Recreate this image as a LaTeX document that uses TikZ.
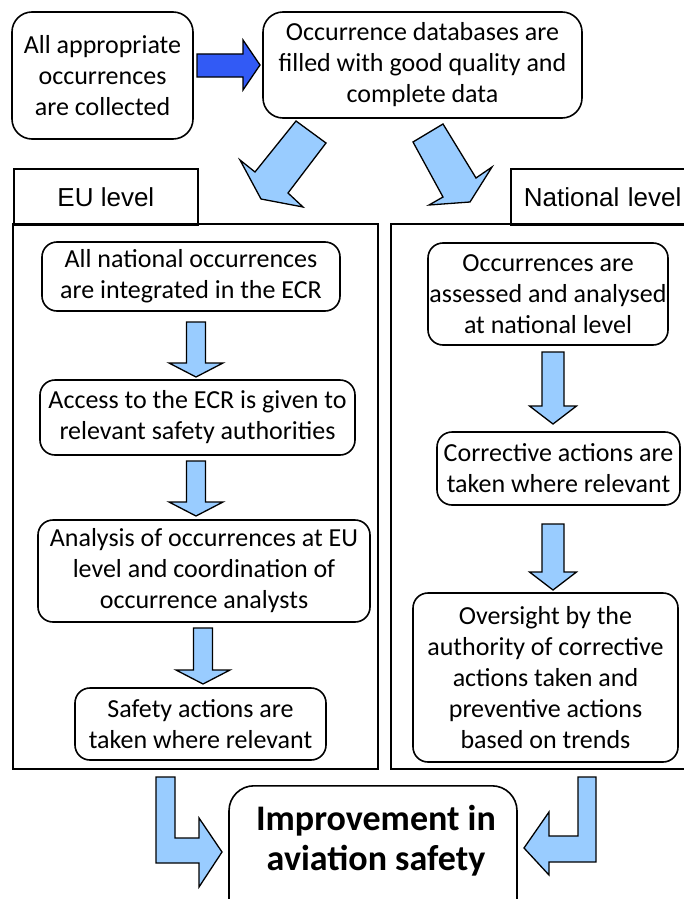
\documentclass[tikz,border=0pt]{standalone}
\usepackage{fontspec}
\setmainfont{Carlito}
\newfontfamily\arialf{Liberation Sans}
\definecolor{lblue}{RGB}{153,204,255}
\definecolor{dblue}{RGB}{50,90,245}
\tikzset{
  rbox/.style={draw=black, line width=1.6pt, rounded corners=15pt, align=center, inner sep=0pt,
    font=\fontsize{26}{31}\selectfont},
  tabbox/.style={draw=black, line width=1.8pt, inner sep=0pt, font=\arialf\fontsize{26}{30}\selectfont},
  panel/.style={draw=black, line width=1.8pt},
  barrow/.style={draw=black, line width=1.3pt, fill=lblue, line join=miter},
  darrow/.style={draw=black, line width=1.3pt, fill=dblue, line join=miter},
}
\newcommand\dnarrow[6]{%
  \draw[barrow] (#1-#5,#2) -- (#1+#5,#2) -- (#1+#5,#3) -- (#1+#6,#3) -- (#1,#4)
    -- (#1-#6,#3) -- (#1-#5,#3) -- cycle;}
\begin{document}
\begin{tikzpicture}[x=1pt,y=-1pt]
\useasboundingbox (0,0) rectangle (684,899);
\clip (0,0) rectangle (684,899);
\fill[white] (0,0) rectangle (684,899);

% top boxes
\node[rbox, rounded corners=20pt, minimum width=181, minimum height=127] (a) at (102.5,75.5)
  {All appropriate\\occurrences\\are collected};
\node[rbox, rounded corners=20pt, minimum width=319, minimum height=106] (b) at (422.5,65)
  {Occurrence databases are\\filled with good quality and\\complete data};
\draw[darrow] (197,54) -- (243,54) -- (243,40) -- (260,65) -- (243,90) -- (243,77) -- (197,77) -- cycle;

% diagonal arrows
\draw[barrow] (296,121) -- (326,143) -- (288,193) -- (303,207) -- (261,199) -- (240,160) -- (255,172) -- cycle;
\draw[barrow] (413,142) -- (443,124) -- (476,178) -- (492,167) -- (470,202) -- (429,205) -- (443,197) -- cycle;

% panels and tabs
\node[tabbox, minimum width=184, minimum height=56, anchor=north west] (eutab) at (13,168) {EU level};
\draw[panel] (13,224) rectangle (378,769);
\node[tabbox, minimum height=56, anchor=north west, text width=176, align=left, inner xsep=13pt] (natab) at (510,168) {National level};
\draw[panel] (391,224) rectangle (700,769);

% EU level
\node[rbox, minimum width=298, minimum height=69] (e1) at (191,276.5)
  {All national occurrences\\are integrated in the ECR};
\node[rbox, minimum width=315, minimum height=75] (e2) at (197.5,417.5)
  {Access to the ECR is given to\\relevant safety authorities};
\node[rbox, minimum width=332, minimum height=102] (e3) at (204,571)
  {Analysis of occurrences at EU\\level and coordination of\\occurrence analysts};
\node[rbox, minimum width=251, minimum height=72] (e4) at (200.5,724)
  {Safety actions are\\taken where relevant};
\dnarrow{196}{322}{363}{377}{9.5}{27}
\dnarrow{196}{461}{502}{516}{9.5}{27}
\dnarrow{203}{628}{670}{684}{9.5}{27}

% National level
\node[rbox, minimum width=240, minimum height=102] (n1) at (548,294)
  {Occurrences are\\assessed and analysed\\at national level};
\node[rbox, minimum width=243, minimum height=73] (n2) at (558.5,468.5)
  {Corrective actions are\\taken where relevant};
\node[rbox, minimum width=265, minimum height=169] (n3) at (545.5,677.5)
  {Oversight by the\\authority of corrective\\actions taken and\\preventive actions\\based on trends};
\dnarrow{553}{352}{406}{424}{11}{23.5}
\dnarrow{553}{524}{572}{590}{11}{23.5}

% bottom
\node[rbox, rounded corners=25pt, minimum width=288, minimum height=150, anchor=north] (imp) at (373,785) {};
\node[align=center, inner sep=0pt, font=\bfseries\fontsize{36}{40}\selectfont] (impt) at (376,841)
  {Improvement in\\aviation safety};
\draw[barrow] (156,777) -- (175,777) -- (175,838) -- (199,838) -- (199,818) -- (222,852)
  -- (199,887) -- (199,863) -- (156,863) -- cycle;
\draw[barrow] (596,777) -- (578,777) -- (578,836) -- (549,836) -- (549,812) -- (524,848)
  -- (549,875) -- (549,862) -- (596,862) -- cycle;
\end{tikzpicture}
\end{document}
